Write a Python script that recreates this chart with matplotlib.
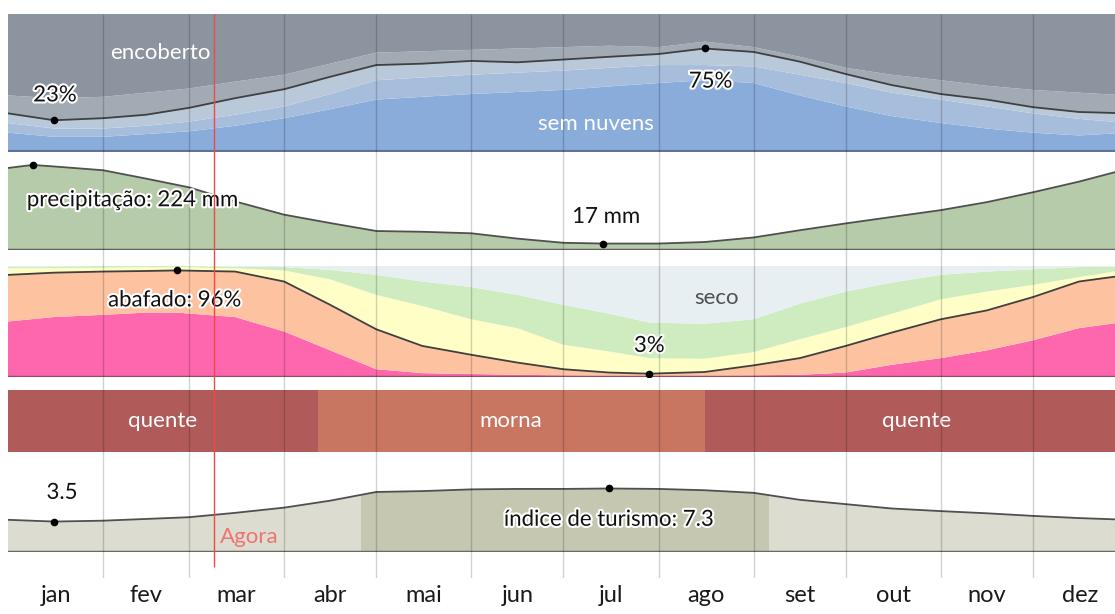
import numpy as np
import matplotlib.pyplot as plt
import matplotlib.patheffects as pe
from matplotlib.patches import Rectangle

plt.rcParams['font.family'] = ['Lato', 'DejaVu Sans']

months = ['jan', 'fev', 'mar', 'abr', 'mai', 'jun', 'jul', 'ago', 'set', 'out', 'nov', 'dez']
month_start = [0, 31, 59, 90, 120, 151, 181, 212, 243, 273, 304, 334, 365]
today = 67

# nuvens: % do tempo mais limpo que cada nivel
days_c = [0, 15, 31, 45, 59, 74, 90, 105, 120, 135, 151, 166, 181, 196, 212, 227, 243, 258, 273, 288, 304, 319, 334, 349, 365]
clear = [14, 11, 11, 13, 15, 19, 24.5, 31, 38, 40, 42, 43.5, 45, 47.5, 50, 52, 50, 41, 33, 26, 21, 17, 14, 12, 14]
mostly_clear = [21, 17, 17, 19, 22, 27, 33, 42, 52, 54, 56, 57.5, 59, 61, 63, 63, 62, 56, 50, 43, 38, 33, 28, 24, 21]
partly = [28, 23, 24.5, 27, 32, 39, 45.5, 54.5, 63, 64, 66, 65, 67, 69, 71, 75, 72.5, 65.5, 56.5, 48.5, 42, 38, 32.5, 29, 28]
mostly_cloudy = [41, 39, 40, 43, 46, 51, 56, 64, 72, 73, 74, 75, 76, 77, 76, 80, 76, 69, 61, 56, 52, 48, 45, 43, 41]

# precipitacao (mm)
days_p = [0, 8, 15, 31, 45, 59, 74, 90, 105, 120, 135, 151, 166, 181, 194, 212, 227, 243, 258, 273, 288, 304, 319, 334, 349, 365]
precip = [216, 224, 220, 210, 188, 165, 128, 93, 71, 50, 48, 44, 30, 19, 17, 17, 21, 33, 52, 70, 87, 105, 126, 152, 180, 214]

# umidade (% do tempo)
days_h = [0, 15, 31, 45, 55, 74, 90, 105, 120, 135, 151, 166, 181, 196, 209, 227, 243, 258, 273, 288, 304, 319, 334, 349, 365]
oppressive = [50, 54, 56, 58, 58, 54, 41, 24, 7, 3.5, 2.7, 2, 1.5, 1, 1, 1, 1.5, 2, 4, 11, 17, 24, 33, 44, 50]
muggy = [92, 94, 95, 95.5, 96, 95, 86, 65, 43, 28, 20, 13, 7, 4, 3, 4.5, 10.5, 17, 28, 40, 52, 60, 72, 86, 92]
humid = [98, 98, 98.5, 99, 99, 98, 96, 88, 74, 64, 52, 44, 29, 23, 17, 16.5, 22.5, 34, 45, 57, 70, 77, 83, 90, 97]
comfortable = [99.5, 99.5, 100, 100, 100, 99.5, 99, 96.5, 92, 86, 81, 74, 65, 57, 49, 48, 52, 66, 77, 85, 92, 95, 97, 99, 99.5]

# estacoes de temperatura
seasons = ['quente', 'morna', 'quente']
season_start = [0, 101, 227]
season_end = [101, 227, 365]
season_colors = ['#b05b59', '#c87562', '#b05b59']

# indice de turismo
days_t = [0, 15, 31, 45, 59, 74, 90, 105, 120, 135, 151, 166, 181, 196, 212, 227, 243, 258, 273, 288, 304, 319, 334, 349, 365]
tourism = [3.7, 3.5, 3.6, 3.8, 4.0, 4.5, 5.1, 5.9, 6.9, 7.0, 7.2, 7.25, 7.25, 7.3, 7.25, 7.1, 6.8, 6.0, 5.5, 5.0, 4.7, 4.45, 4.15, 3.9, 3.7]
best_start, best_end = 115, 248

W, H = 1115, 614
fig = plt.figure(figsize=(W / 100, H / 100), dpi=100)
halo = [pe.withStroke(linewidth=3, foreground='white')]
FS = 16


def panel(top, bottom, ylim):
    ax = fig.add_axes([8 / W, 1 - bottom / H, 1120 / W, (bottom - top) / H])
    ax.set_xlim(0, 365)
    ax.set_ylim(*ylim)
    ax.axis('off')
    return ax


# painel 1 - nuvens
ax1 = panel(14, 152, (0, 100))
ax1.fill_between(days_c, 0, clear, color='#89acdb', lw=0)
ax1.fill_between(days_c, clear, mostly_clear, color='#a6bddc', lw=0)
ax1.fill_between(days_c, mostly_clear, partly, color='#bac9da', lw=0)
ax1.fill_between(days_c, partly, mostly_cloudy, color='#a2abb4', lw=0)
ax1.fill_between(days_c, mostly_cloudy, 100, color='#8c959f', lw=0)
ax1.plot(days_c, partly, color='#404040', lw=1.3)
ax1.axhline(0, color='#5d7494', lw=3)
i_min = int(np.argmin(partly))
i_max = int(np.argmax(partly))
ax1.plot(days_c[i_min], partly[i_min], 'o', color='black', ms=4.5)
ax1.plot(days_c[i_max], partly[i_max], 'o', color='black', ms=4.5)
ax1.text(15.3, 41, '23%', ha='center', va='center', fontsize=FS, color='#111', path_effects=halo)
ax1.text(229, 51, '75%', ha='center', va='center', fontsize=FS, color='#111', path_effects=halo)
ax1.text(49.5, 72, 'encoberto', ha='center', va='center', fontsize=FS, color='white')
ax1.text(191.6, 20, 'sem nuvens', ha='center', va='center', fontsize=FS, color='white')

# painel 2 - precipitacao
ax2 = panel(160, 250, (0, 237))
ax2.fill_between(days_p, 0, precip, color='#b5cba9', lw=0)
ax2.plot(days_p, precip, color='#505050', lw=1.3)
ax2.axhline(0, color='#606060', lw=2.5)
j_max = int(np.argmax(precip))
j_min = int(np.argmin(precip))
ax2.plot(days_p[j_max], precip[j_max], 'o', color='black', ms=4.5)
ax2.plot(days_p[j_min], precip[j_min], 'o', color='black', ms=4.5)
ax2.text(40.7, 131, 'precipitação: 224 mm', ha='center', va='center', fontsize=FS, color='#111', path_effects=halo)
ax2.text(195, 87, '17 mm', ha='center', va='center', fontsize=FS, color='#111', path_effects=halo)

# painel 3 - umidade
ax3 = panel(266, 377, (0, 100))
ax3.fill_between(days_h, 0, oppressive, color='#fe67ae', lw=0)
ax3.fill_between(days_h, oppressive, muggy, color='#fdc3a0', lw=0)
ax3.fill_between(days_h, muggy, humid, color='#fefec6', lw=0)
ax3.fill_between(days_h, humid, comfortable, color='#ceecbf', lw=0)
ax3.fill_between(days_h, comfortable, 100, color='#e7eff2', lw=0)
ax3.plot(days_h, muggy, color='#404040', lw=1.3)
ax3.axhline(0, color='#9a4a5a', lw=2.5)
k_max = int(np.argmax(muggy))
k_min = int(np.argmin(muggy))
ax3.plot(days_h[k_max], muggy[k_max], 'o', color='black', ms=4.5)
ax3.plot(days_h[k_min], muggy[k_min], 'o', color='black', ms=4.5)
ax3.text(54.4, 69, 'abafado: 96%', ha='center', va='center', fontsize=FS, color='#111', path_effects=halo)
ax3.text(209, 28, '3%', ha='center', va='center', fontsize=FS, color='#111', path_effects=halo)
ax3.text(231, 71, 'seco', ha='center', va='center', fontsize=FS, color='#505050')

# painel 4 - temperatura
ax4 = panel(390, 452, (0, 1))
for name, s, e, c in zip(seasons, season_start, season_end, season_colors):
    ax4.axvspan(s, e, color=c, lw=0)
    ax4.text((s + e) / 2, 0.5, name, ha='center', va='center', fontsize=FS, color='white')

# painel 5 - turismo
ax5 = panel(465, 552, (0, 10))
ax5.fill_between(days_t, 0, tourism, color='#dcdcd0', lw=0)
best = ax5.fill_between(days_t, 0, tourism, color='#c6c7b1', lw=0)
best.set_clip_path(Rectangle((best_start, 0), best_end - best_start, 10, transform=ax5.transData))
ax5.plot(days_t, tourism, color='#505050', lw=1.3)
ax5.axhline(0, color='#6a6a60', lw=2.5)
t_min = int(np.argmin(tourism))
t_max = int(np.argmax(tourism))
ax5.plot(days_t[t_min], tourism[t_min], 'o', color='black', ms=4.5)
ax5.plot(days_t[t_max], tourism[t_max], 'o', color='black', ms=4.5)
ax5.text(17.6, 6.8, '3.5', ha='center', va='center', fontsize=FS, color='#111', path_effects=halo)
ax5.text(196, 3.7, 'índice de turismo: 7.3', ha='center', va='center', fontsize=FS, color='#111', path_effects=halo)
ax5.text(69, 1.7, 'Agora', ha='left', va='center', fontsize=FS, color='#f07373')

# grade dos meses, linha de hoje e rotulos
top_px, bot_px = 14, 578
ov = fig.add_axes([8 / W, 1 - bot_px / H, 1120 / W, (bot_px - top_px) / H], zorder=5)
ov.patch.set_alpha(0)
ov.set_xlim(0, 365)
ov.set_ylim(0, 1)
for sp in ov.spines.values():
    sp.set_visible(False)
ov.set_yticks([])
ov.vlines(month_start[1:-1], 0, 1, color='black', alpha=0.18, lw=1)
ov.vlines([today], (bot_px - 567) / (bot_px - top_px), 1, color='#f04848', lw=1)
mids = [(month_start[i] + month_start[i + 1]) / 2 for i in range(12)]
ov.set_xticks(mids, labels=months)
ov.tick_params(axis='x', length=0, pad=5, labelsize=17, labelcolor='#1a1a1a')

fig.savefig('out.png', dpi=100)
